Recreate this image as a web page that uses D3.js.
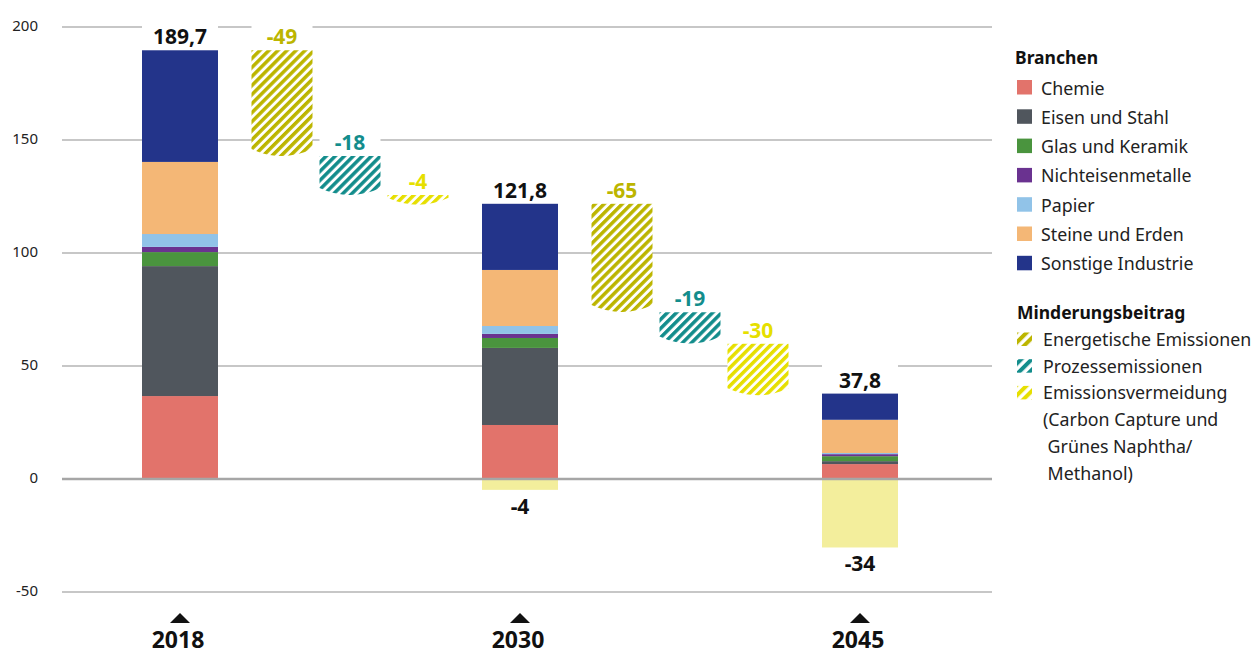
<!DOCTYPE html>
<html>
<head>
<meta charset="utf-8">
<script src="https://cdn.jsdelivr.net/npm/d3@7"></script>
<style>
  html, body { margin: 0; padding: 0; background: #fff; }
  svg { display: block; font-family: "Noto Sans", sans-serif; }
</style>
</head>
<body>
<svg id="chart" width="1258" height="655"></svg>
<script>
// ---------- DATA ----------
const years = ["2018", "2030", "2045"];
const yearSlots = [0, 5, 10];
const branchen = ["Chemie", "Eisen und Stahl", "Glas und Keramik", "Nichteisenmetalle", "Papier", "Steine und Erden", "Sonstige Industrie"];
const chemie            = [36.7, 23.9, 6.6];
const eisenUndStahl     = [57.5, 34.1, 1.3];
const glasUndKeramik    = [6.2, 4.4, 2.2];
const nichteisenmetalle = [2.3, 1.8, 0.9];
const papier            = [5.7, 3.5, 0.5];
const steineUndErden    = [31.9, 24.8, 14.7];
const sonstigeIndustrie = [49.4, 29.3, 11.6];
const totalLabels = ["189,7", "121,8", "37,8"];
const vermeidungNeg = [0, -4.8, -30.3];
const vermeidungNegLabels = ["", "-4", "-34"];

const minderungTypes = ["Energetische Emissionen", "Prozessemissionen", "Emissionsvermeidung"];
const stepSlots  = [1.5, 2.5, 3.5, 6.5, 7.5, 8.5];
const stepType   = [0, 1, 2, 0, 1, 2];
const stepTop    = [189.7, 142.9, 125.7, 121.8, 73.8, 59.9];
const stepBottom = [146.0, 128.8, 124.4, 77.0, 63.0, 40.1];
const stepLabels = ["-49", "-18", "-4", "-65", "-19", "-30"];

const yTicks = [-50, 0, 50, 100, 150, 200];
const legendTitle1 = "Branchen";
const legendTitle2 = "Minderungsbeitrag";
const minderungLegendLines = [["Energetische Emissionen"], ["Prozessemissionen"], ["Emissionsvermeidung", "(Carbon Capture und", " Grünes Naphtha/", " Methanol)"]];

// ---------- STYLE ----------
const branchColors = ["#e2736b", "#50565d", "#4a943e", "#6a3290", "#91c3e8", "#f4b776", "#23348a"];
const hatchColors = ["#bcb500", "#138d8c", "#e6df00"];
const negColor = "#f3ee9c";

const svg = d3.select("#chart");
const y = d3.scaleLinear().domain([-50, 200]).range([592, 27]);
const x = d3.scaleLinear().domain([0, 10]).range([180, 860]);
const gridX0 = 62, gridX1 = 992;
const yearW = 76, stepW = 61, sag = 7;

// patterns
const defs = svg.append("defs");
hatchColors.forEach((c, i) => {
  const p = defs.append("pattern").attr("id", "hatch" + i)
    .attr("patternUnits", "userSpaceOnUse").attr("width", 6.4).attr("height", 6.4)
    .attr("patternTransform", "rotate(45)");
  p.append("rect").attr("width", 6.4).attr("height", 6.4).attr("fill", "#fff");
  p.append("rect").attr("width", 3.5).attr("height", 6.4).attr("fill", c);
  const q = defs.append("pattern").attr("id", "lhatch" + i)
    .attr("patternUnits", "userSpaceOnUse").attr("width", 7.5).attr("height", 7.5)
    .attr("patternTransform", "translate(1017,0) rotate(45)");
  q.append("rect").attr("width", 7.5).attr("height", 7.5).attr("fill", "#fff");
  q.append("rect").attr("width", 4).attr("height", 7.5).attr("fill", c);
});

// grid
const grid = svg.append("g");
grid.selectAll("line").data(yTicks.filter(d => d !== 0)).join("line")
  .attr("x1", gridX0).attr("x2", gridX1)
  .attr("y1", d => y(d)).attr("y2", d => y(d))
  .attr("stroke", "#b4b4b4").attr("stroke-width", 1.3);

// y axis labels
const yAxis = d3.axisLeft(y).tickValues(yTicks).tickSize(0).tickPadding(0).tickFormat(d => String(d));
const ya = svg.append("g").attr("transform", "translate(38,0)").call(yAxis);
ya.select(".domain").remove();
ya.selectAll("text").attr("font-size", 15).attr("fill", "#222")
  .attr("font-family", "Noto Sans, sans-serif").attr("dy", "0.2em");

// stacked bars
const series = [chemie, eisenUndStahl, glasUndKeramik, nichteisenmetalle, papier, steineUndErden, sonstigeIndustrie];
const rows = years.map((yr, i) => {
  const o = { year: yr, i };
  branchen.forEach((b, k) => o[b] = series[k][i]);
  return o;
});
const stack = d3.stack().keys(branchen)(rows);
const barsG = svg.append("g");
stack.forEach((layer, k) => {
  barsG.selectAll(null).data(layer).join("rect")
    .attr("x", d => x(yearSlots[d.data.i]) - yearW / 2)
    .attr("width", yearW)
    .attr("y", d => y(d[1]))
    .attr("height", d => y(d[0]) - y(d[1]))
    .attr("fill", branchColors[k]);
});
// negative bars
barsG.selectAll(null).data(vermeidungNeg.map((v, i) => ({ v, i })).filter(d => d.v < 0)).join("rect")
  .attr("x", d => x(yearSlots[d.i]) - yearW / 2)
  .attr("width", yearW)
  .attr("y", y(0))
  .attr("height", d => y(d.v) - y(0))
  .attr("fill", negColor);

// step (hatched) bars
const stepG = svg.append("g");
stepSlots.forEach((s, i) => {
  const x0 = x(s) - stepW / 2, x1 = x(s) + stepW / 2;
  const yt = y(stepTop[i]), yb = y(stepBottom[i]);
  const path = `M${x0},${yt} L${x1},${yt} L${x1},${yb} Q${x(s)},${yb + 2 * sag} ${x0},${yb} Z`;
  stepG.append("path").attr("d", path).attr("fill", `url(#hatch${stepType[i]})`);
});

// label boxes + labels
const labG = svg.append("g");
const totals = years.map((yr, i) => series.reduce((a, s) => a + s[i], 0));
years.forEach((yr, i) => {
  const cx = x(yearSlots[i]), top = y(totals[i]);
  labG.append("rect").attr("x", cx - yearW / 2).attr("width", yearW).attr("y", top - 30).attr("height", 29.5).attr("fill", "#fff");
  labG.append("text").attr("x", cx).attr("y", top - 6).attr("text-anchor", "middle")
    .attr("font-size", 21).attr("font-weight", 700).attr("fill", "#111").text(totalLabels[i]);
  if (vermeidungNeg[i] < 0) {
    labG.append("text").attr("x", cx).attr("y", y(vermeidungNeg[i]) + 24).attr("text-anchor", "middle")
      .attr("font-size", 21).attr("font-weight", 700).attr("fill", "#111").text(vermeidungNegLabels[i]);
  }
});
stepSlots.forEach((s, i) => {
  const cx = x(s), top = y(stepTop[i]);
  labG.append("rect").attr("x", cx - stepW / 2).attr("width", stepW).attr("y", top - 30).attr("height", 29.5).attr("fill", "#fff");
  labG.append("text").attr("x", cx).attr("y", top - 6).attr("text-anchor", "middle")
    .attr("font-size", 21).attr("font-weight", 700).attr("fill", hatchColors[stepType[i]]).text(stepLabels[i]);
});

// zero line
svg.append("line").attr("x1", gridX0).attr("x2", gridX1).attr("y1", y(0)).attr("y2", y(0))
  .attr("stroke", "#a6a6a6").attr("stroke-width", 2.6);

// x axis markers
const xa = svg.append("g");
years.forEach((yr, i) => {
  const cx = x(yearSlots[i]);
  xa.append("path").attr("d", `M${cx - 10},623 L${cx + 10},623 L${cx},613 Z`).attr("fill", "#111");
  xa.append("text").attr("x", cx - 2).attr("y", 648).attr("text-anchor", "middle")
    .attr("font-size", 23).attr("font-weight", 700).attr("fill", "#111").text(yr);
});

// legend
const lg = svg.append("g").attr("font-size", 17.8).attr("fill", "#222");
lg.append("text").attr("x", 1015).attr("y", 64).attr("font-weight", 700).attr("fill", "#111").attr("font-size", 17.5).text(legendTitle1);
branchen.forEach((b, k) => {
  const by = 94.5 + k * 29.3;
  lg.append("rect").attr("x", 1017).attr("y", by - 14.5).attr("width", 15).attr("height", 14.5).attr("fill", branchColors[k]);
  lg.append("text").attr("x", 1041).attr("y", by).text(b);
});
lg.append("text").attr("x", 1017).attr("y", 318.5).attr("font-weight", 700).attr("fill", "#111").attr("font-size", 17.5).text(legendTitle2);
let line = 0;
minderungLegendLines.forEach((lines, k) => {
  const by = 346 + line * 26.7;
  lg.append("rect").attr("x", 1017).attr("y", by - 13.5).attr("width", 15).attr("height", 13.5).attr("fill", `url(#lhatch${k})`);
  lines.forEach((t, j) => {
    lg.append("text").attr("x", 1043).attr("y", 346 + (line + j) * 26.7).attr("xml:space", "preserve").style("white-space", "pre").text(t);
  });
  line += lines.length;
});
</script>
</body>
</html>
